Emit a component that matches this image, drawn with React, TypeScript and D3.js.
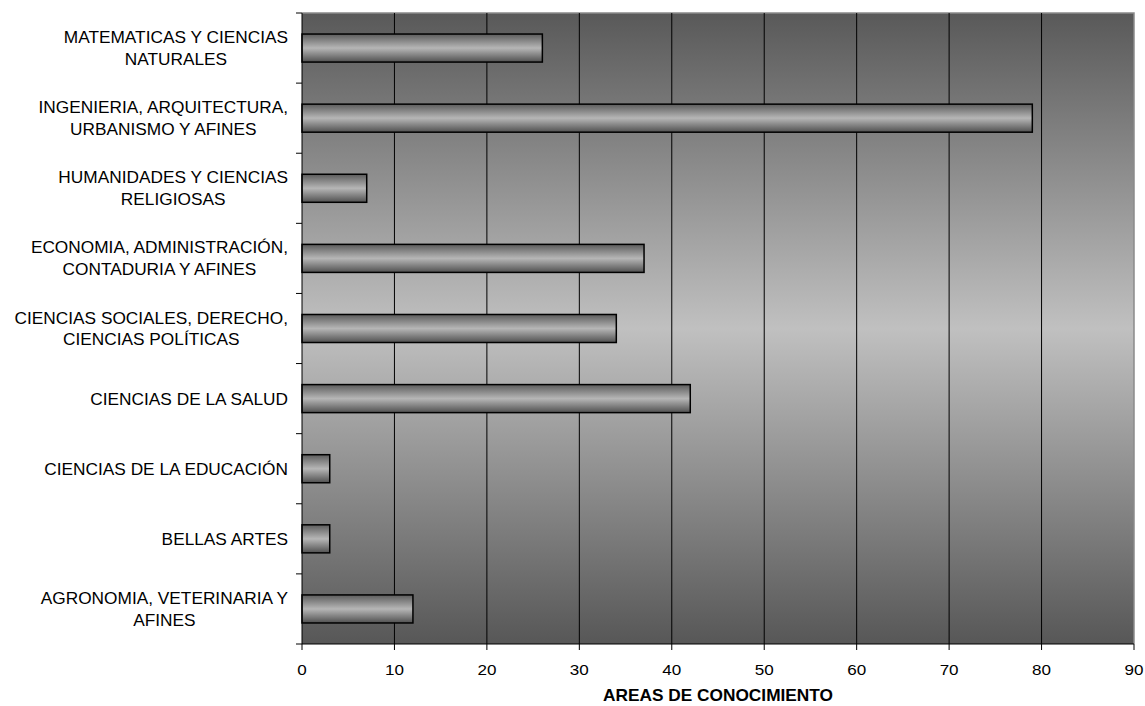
import React, { useEffect, useRef } from "react";
import * as d3 from "d3";

const categories: string[][] = [
  ["MATEMATICAS Y CIENCIAS", "NATURALES"],
  ["INGENIERIA, ARQUITECTURA,", "URBANISMO Y AFINES"],
  ["HUMANIDADES Y CIENCIAS", "RELIGIOSAS"],
  ["ECONOMIA, ADMINISTRACIÓN,", "CONTADURIA Y AFINES"],
  ["CIENCIAS SOCIALES, DERECHO,", "CIENCIAS POLÍTICAS"],
  ["CIENCIAS DE LA SALUD"],
  ["CIENCIAS DE LA EDUCACIÓN"],
  ["BELLAS ARTES"],
  ["AGRONOMIA, VETERINARIA Y", "AFINES"],
];
const values: number[] = [26, 79, 7, 37, 34, 42, 3, 3, 12];
const xTicks: number[] = [0, 10, 20, 30, 40, 50, 60, 70, 80, 90];
const xTitle = "AREAS DE CONOCIMIENTO";

const W = 1145;
const H = 706;
const M = { left: 302, right: 1134, top: 13, bottom: 644 };
const FONT = "Arial, 'Liberation Sans', Helvetica, sans-serif";

export default function App() {
  const ref = useRef<SVGSVGElement | null>(null);

  useEffect(() => {
    const svg = d3.select(ref.current);
    svg.selectAll("*").remove();

    const x = d3.scaleLinear().domain([0, 90]).range([M.left, M.right]);
    const y = d3
      .scaleBand<number>()
      .domain(d3.range(categories.length))
      .range([M.top, M.bottom])
      .paddingInner(0.6)
      .paddingOuter(0.3);
    const step = (M.bottom - M.top) / categories.length;

    const defs = svg.append("defs");
    const bg = defs
      .append("linearGradient")
      .attr("id", "bgGrad")
      .attr("x1", 0)
      .attr("y1", 0)
      .attr("x2", 0)
      .attr("y2", 1);
    bg.append("stop").attr("offset", "0%").attr("stop-color", "#595959");
    bg.append("stop").attr("offset", "50%").attr("stop-color", "#c0c0c0");
    bg.append("stop").attr("offset", "100%").attr("stop-color", "#575757");

    const bar = defs
      .append("linearGradient")
      .attr("id", "barGrad")
      .attr("x1", 0)
      .attr("y1", 0)
      .attr("x2", 0)
      .attr("y2", 1);
    bar.append("stop").attr("offset", "0%").attr("stop-color", "#5c5c5c");
    bar.append("stop").attr("offset", "50%").attr("stop-color", "#b6b6b6");
    bar.append("stop").attr("offset", "100%").attr("stop-color", "#505050");

    // plot background
    svg
      .append("rect")
      .attr("x", M.left)
      .attr("y", M.top)
      .attr("width", M.right - M.left)
      .attr("height", M.bottom - M.top)
      .attr("fill", "url(#bgGrad)");

    // border top & right (gray)
    svg
      .append("path")
      .attr("d", `M${M.left},${M.top}H${M.right}V${M.bottom}`)
      .attr("fill", "none")
      .attr("stroke", "#8a8a8a")
      .attr("stroke-width", 1.5);

    // gridlines
    svg
      .append("g")
      .selectAll("line")
      .data(xTicks.filter((t) => t > 0 && t < 90))
      .join("line")
      .attr("x1", (d) => x(d))
      .attr("x2", (d) => x(d))
      .attr("y1", M.top)
      .attr("y2", M.bottom)
      .attr("stroke", "#000")
      .attr("stroke-width", 1);

    // bars
    svg
      .append("g")
      .selectAll("rect")
      .data(values)
      .join("rect")
      .attr("x", x(0))
      .attr("y", (_, i) => y(i) as number)
      .attr("width", (d) => x(d) - x(0))
      .attr("height", y.bandwidth())
      .attr("fill", "url(#barGrad)")
      .attr("stroke", "#000")
      .attr("stroke-width", 1.5);

    // axes lines
    svg
      .append("path")
      .attr("d", `M${M.left},${M.top}V${M.bottom}H${M.right}`)
      .attr("fill", "none")
      .attr("stroke", "#000")
      .attr("stroke-width", 1);

    // y ticks (category boundaries)
    svg
      .append("g")
      .selectAll("line")
      .data(d3.range(categories.length + 1))
      .join("line")
      .attr("x1", M.left - 6)
      .attr("x2", M.left)
      .attr("y1", (d) => M.top + d * step)
      .attr("y2", (d) => M.top + d * step)
      .attr("stroke", "#000");

    // x ticks
    svg
      .append("g")
      .selectAll("line")
      .data(xTicks)
      .join("line")
      .attr("x1", (d) => x(d))
      .attr("x2", (d) => x(d))
      .attr("y1", M.bottom)
      .attr("y2", M.bottom + 6)
      .attr("stroke", "#000");

    // x tick labels
    svg
      .append("g")
      .selectAll("text")
      .data(xTicks)
      .join("text")
      .attr("transform", (d) => `translate(${x(d)},${M.bottom + 31}) scale(1.1,1)`)
      .attr("text-anchor", "middle")
      .attr("font-family", FONT)
      .attr("font-size", 15.5)
      .attr("fill", "#000")
      .text((d) => String(d));

    // x title
    svg
      .append("text")
      .attr("transform", `translate(${(M.left + M.right) / 2},${M.bottom + 57}) scale(1.08,1)`)
      .attr("text-anchor", "middle")
      .attr("font-family", FONT)
      .attr("font-size", 16)
      .attr("font-weight", "bold")
      .attr("fill", "#000")
      .text(xTitle);

    // category labels
    const lineH = 22;
    categories.forEach((lines, i) => {
      const cy = M.top + step * (i + 0.5);
      const g = svg
        .append("g")
        .attr("transform", `translate(288,${cy}) scale(1.08,1)`);
      const texts = lines.map((ln, j) =>
        g
          .append("text")
          .attr("y", 6 + (j - (lines.length - 1) / 2) * lineH)
          .attr("text-anchor", "middle")
          .attr("font-family", FONT)
          .attr("font-size", 16)
          .attr("fill", "#000")
          .text(ln)
      );
      const maxW = d3.max(texts, (t) => (t.node() as SVGTextElement).getComputedTextLength()) || 0;
      texts.forEach((t) => t.attr("x", -maxW / 2));
    });
  }, []);

  return (
    <svg
      ref={ref}
      width={W}
      height={H}
      style={{ position: "absolute", left: 0, top: 0, display: "block", background: "#fff" }}
    />
  );
}
